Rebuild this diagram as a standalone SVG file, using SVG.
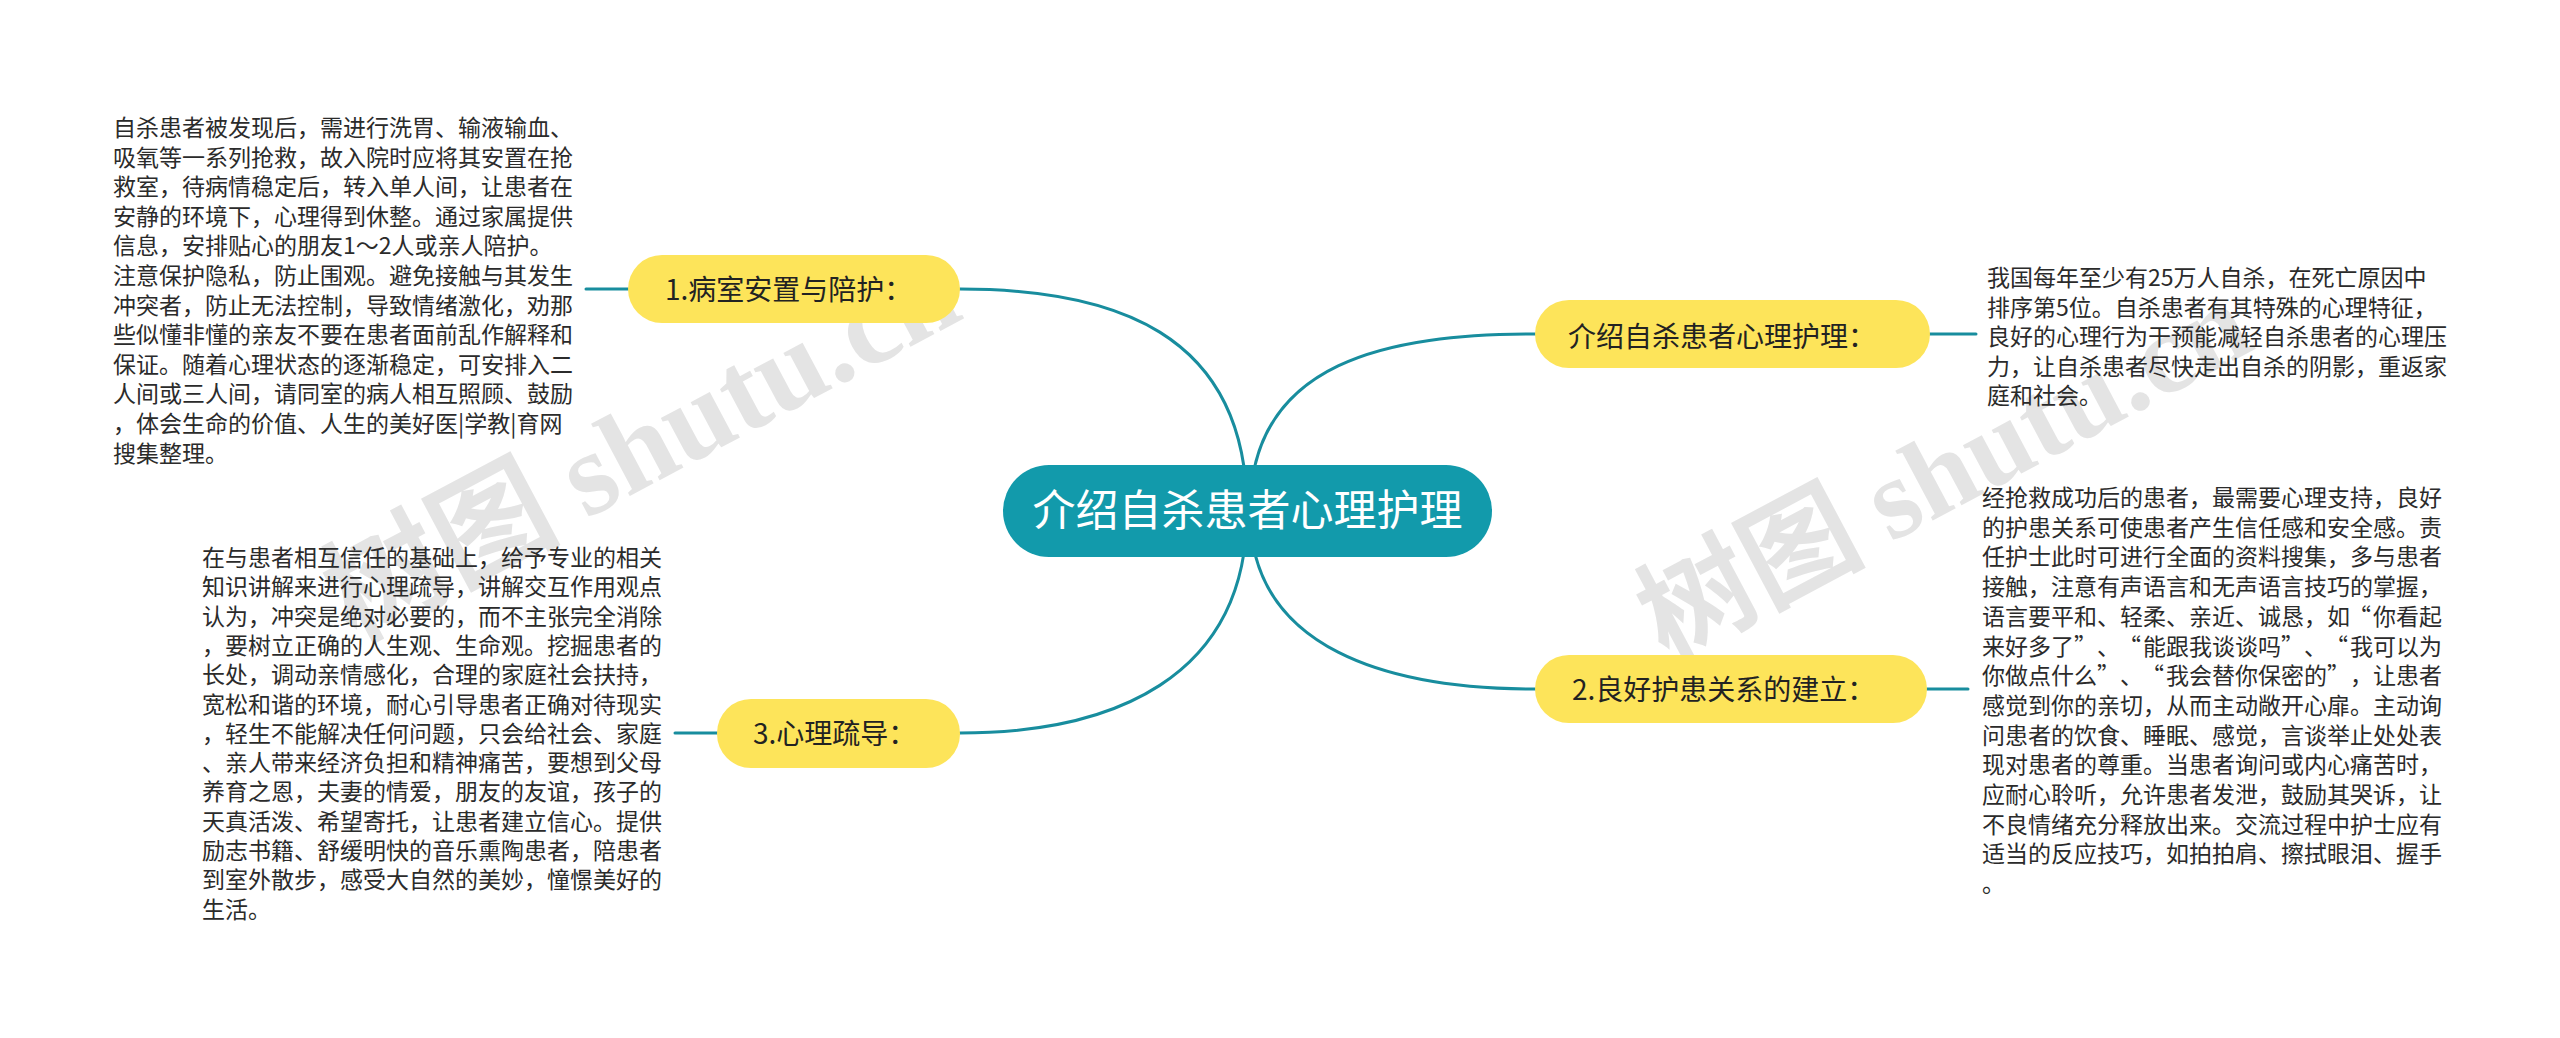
<svg xmlns="http://www.w3.org/2000/svg" width="2560" height="1038" viewBox="0 0 2560 1038">
<style>
.body{font-family:"Noto Sans CJK SC","Noto Sans",sans-serif;font-size:23px;fill:#2b2b2b}
.topic{font-family:"Noto Sans CJK SC","Noto Sans",sans-serif;font-size:28px;fill:#222}
.root{font-family:"Noto Sans CJK SC","Noto Sans",sans-serif;font-size:43px;fill:#ffffff}
.conn{fill:none;stroke:#188d9e;stroke-width:3;stroke-linecap:round}
.yel{fill:#fde45a}
.wm{font-weight:bold;fill:#c4c4c4;opacity:0.45}
.oq{text-anchor:end}
</style>
<rect width="2560" height="1038" fill="#ffffff"/>
<g id="watermarks">
<text class="wm" transform="translate(660,480) rotate(-28)" text-anchor="middle" font-size="118"><tspan font-family="Noto Sans CJK SC, sans-serif">树图 </tspan><tspan font-family="Liberation Serif, serif">shutu.cn</tspan></text>
<text class="wm" transform="translate(1962,505) rotate(-28)" text-anchor="middle" font-size="114"><tspan font-family="Noto Sans CJK SC, sans-serif">树图 </tspan><tspan font-family="Liberation Serif, serif">shutu.cn</tspan></text>
</g>
<g id="connectors">
<path class="conn" d="M1247,511 C1247,330 1110,289 960,289"/>
<path class="conn" d="M1247,511 C1247,680 1110,733 960,733"/>
<path class="conn" d="M1250,511 C1250,360 1390,334 1535,334"/>
<path class="conn" d="M1250,511 C1250,650 1390,689 1535,689"/>
<path class="conn" d="M628,289 L586,289"/>
<path class="conn" d="M717,733 L675,733"/>
<path class="conn" d="M1930,334 L1976,334"/>
<path class="conn" d="M1927,689 L1968,689"/>
</g>
<g id="root">
<rect x="1003" y="465" width="489" height="92" rx="46" fill="#129aab"/>
<text class="root" x="1247.5" y="526" text-anchor="middle">介绍自杀患者心理护理</text>
</g>
<g id="topic1">
<rect class="yel" x="628" y="255" width="332" height="68" rx="34"/>
<text class="topic" x="665" y="300">1.病室安置与陪护：</text>
</g>
<g id="topic3">
<rect class="yel" x="717" y="699" width="243" height="69" rx="34"/>
<text class="topic" x="753" y="744">3.心理疏导：</text>
</g>
<g id="topicR1">
<rect class="yel" x="1535" y="300" width="395" height="68" rx="34"/>
<text class="topic" x="1568" y="347">介绍自杀患者心理护理：</text>
</g>
<g id="topicR2">
<rect class="yel" x="1535" y="655" width="392" height="68" rx="34"/>
<text class="topic" x="1572" y="700">2.良好护患关系的建立：</text>
</g>
<g id="text1">
<text class="body" x="113" y="136">
<tspan x="113" y="136">自杀患者被发现后，需进行洗胃、输液输血、</tspan>
<tspan x="113" y="165.6">吸氧等一系列抢救，故入院时应将其安置在抢</tspan>
<tspan x="113" y="195.2">救室，待病情稳定后，转入单人间，让患者在</tspan>
<tspan x="113" y="224.8">安静的环境下，心理得到休整。通过家属提供</tspan>
<tspan x="113" y="254.4">信息，安排贴心的朋友1～2人或亲人陪护。</tspan>
<tspan x="113" y="284">注意保护隐私，防止围观。避免接触与其发生</tspan>
<tspan x="113" y="313.6">冲突者，防止无法控制，导致情绪激化，劝那</tspan>
<tspan x="113" y="343.2">些似懂非懂的亲友不要在患者面前乱作解释和</tspan>
<tspan x="113" y="372.8">保证。随着心理状态的逐渐稳定，可安排入二</tspan>
<tspan x="113" y="402.4">人间或三人间，请同室的病人相互照顾、鼓励</tspan>
<tspan x="113" y="432">，体会生命的价值、人生的美好医|学教|育网</tspan>
<tspan x="113" y="461.6">搜集整理。</tspan>
</text>
</g>
<g id="text3">
<text class="body" x="202" y="566">
<tspan x="202" y="566">在与患者相互信任的基础上，给予专业的相关</tspan>
<tspan x="202" y="595.3">知识讲解来进行心理疏导，讲解交互作用观点</tspan>
<tspan x="202" y="624.6">认为，冲突是绝对必要的，而不主张完全消除</tspan>
<tspan x="202" y="653.9">，要树立正确的人生观、生命观。挖掘患者的</tspan>
<tspan x="202" y="683.2">长处，调动亲情感化，合理的家庭社会扶持，</tspan>
<tspan x="202" y="712.5">宽松和谐的环境，耐心引导患者正确对待现实</tspan>
<tspan x="202" y="741.8">，轻生不能解决任何问题，只会给社会、家庭</tspan>
<tspan x="202" y="771.1">、亲人带来经济负担和精神痛苦，要想到父母</tspan>
<tspan x="202" y="800.4">养育之恩，夫妻的情爱，朋友的友谊，孩子的</tspan>
<tspan x="202" y="829.7">天真活泼、希望寄托，让患者建立信心。提供</tspan>
<tspan x="202" y="859">励志书籍、舒缓明快的音乐熏陶患者，陪患者</tspan>
<tspan x="202" y="888.3">到室外散步，感受大自然的美妙，憧憬美好的</tspan>
<tspan x="202" y="917.6">生活。</tspan>
</text>
</g>
<g id="textR1">
<text class="body" x="1987" y="286">
<tspan x="1987" y="286">我国每年至少有25万人自杀，在死亡原因中</tspan>
<tspan x="1987" y="315.5">排序第5位。自杀患者有其特殊的心理特征，</tspan>
<tspan x="1987" y="345">良好的心理行为干预能减轻自杀患者的心理压</tspan>
<tspan x="1987" y="374.5">力，让自杀患者尽快走出自杀的阴影，重返家</tspan>
<tspan x="1987" y="404">庭和社会。</tspan>
</text>
</g>
<g id="textR2">
<text class="body" x="1982" y="506">
<tspan x="1982" y="506">经抢救成功后的患者，最需要心理支持，良好</tspan>
<tspan x="1982" y="535.7">的护患关系可使患者产生信任感和安全感。责</tspan>
<tspan x="1982" y="565.4">任护士此时可进行全面的资料搜集，多与患者</tspan>
<tspan x="1982" y="595.1">接触，注意有声语言和无声语言技巧的掌握，</tspan>
</text>
<text class="body" y="624.8"><tspan x="1982">语言要平和、轻柔、亲近、诚恳，如</tspan><tspan class="oq" x="2371">“</tspan><tspan x="2373">你看起</tspan></text>
<text class="body" y="654.5"><tspan x="1982">来好多了</tspan><tspan x="2074">”</tspan><tspan x="2097">、</tspan><tspan class="oq" x="2141">“</tspan><tspan x="2143">能跟我谈谈吗</tspan><tspan x="2281">”</tspan><tspan x="2304">、</tspan><tspan class="oq" x="2348">“</tspan><tspan x="2350">我可以为</tspan></text>
<text class="body" y="684.2"><tspan x="1982">你做点什么</tspan><tspan x="2097">”</tspan><tspan x="2120">、</tspan><tspan class="oq" x="2164">“</tspan><tspan x="2166">我会替你保密的</tspan><tspan x="2327">”</tspan><tspan x="2350">，让患者</tspan></text>
<text class="body" x="1982" y="713.9">
<tspan x="1982" y="713.9">感觉到你的亲切，从而主动敞开心扉。主动询</tspan>
<tspan x="1982" y="743.6">问患者的饮食、睡眠、感觉，言谈举止处处表</tspan>
<tspan x="1982" y="773.3">现对患者的尊重。当患者询问或内心痛苦时，</tspan>
<tspan x="1982" y="803">应耐心聆听，允许患者发泄，鼓励其哭诉，让</tspan>
<tspan x="1982" y="832.7">不良情绪充分释放出来。交流过程中护士应有</tspan>
<tspan x="1982" y="862.4">适当的反应技巧，如拍拍肩、擦拭眼泪、握手</tspan>
<tspan x="1982" y="892.1">。</tspan>
</text>
</g>
</svg>
